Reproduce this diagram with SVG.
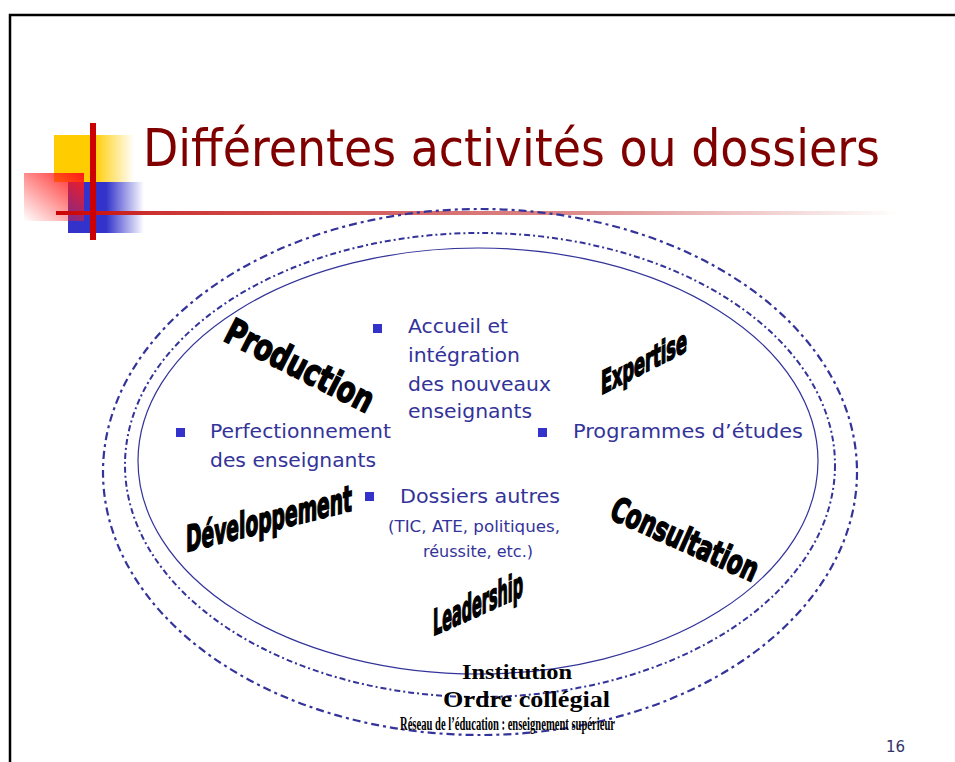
<svg xmlns="http://www.w3.org/2000/svg" width="955" height="762" viewBox="0 0 955 762">
<defs>
<style>
.title{font-family:"DejaVu Sans Condensed","Liberation Sans",sans-serif;font-size:51px;fill:#800000}
.item{font-family:"DejaVu Sans","Liberation Sans",sans-serif;font-size:20px;fill:#333399}
.small{font-family:"DejaVu Sans","Liberation Sans",sans-serif;font-size:16px;fill:#333399}
.bul{fill:#3333cc}
.wa{font-family:"DejaVu Sans Condensed","Liberation Sans Narrow","Liberation Sans",sans-serif;font-weight:bold;fill:#000;stroke:#000;stroke-width:1.6}
.goth{font-family:"Liberation Serif","DejaVu Serif",serif;font-weight:bold;fill:#000}
.ring{fill:none;stroke:#333399}
</style>
<linearGradient id="gY" x1="0" y1="0" x2="1" y2="0">
<stop offset="0" stop-color="#ffcc00"/><stop offset="0.5" stop-color="#ffcc00"/><stop offset="1" stop-color="#ffcc00" stop-opacity="0"/>
</linearGradient>
<linearGradient id="gB" x1="0" y1="0" x2="1" y2="0">
<stop offset="0" stop-color="#3333cc"/><stop offset="0.5" stop-color="#3333cc"/><stop offset="1" stop-color="#3333cc" stop-opacity="0"/>
</linearGradient>
<linearGradient id="gP" x1="1" y1="0" x2="0" y2="1">
<stop offset="0" stop-color="#ff1a1a"/><stop offset="1" stop-color="#ff1a1a" stop-opacity="0"/>
</linearGradient>
<linearGradient id="gL" x1="56" y1="0" x2="900" y2="0" gradientUnits="userSpaceOnUse">
<stop offset="0" stop-color="#cc0000"/><stop offset="0.12" stop-color="#cc3333"/><stop offset="0.6" stop-color="#dd8888"/><stop offset="1" stop-color="#ffffff"/>
</linearGradient>
</defs>
<rect width="955" height="762" fill="#fff"/>
<path d="M10,762 V15 H955" fill="none" stroke="#000" stroke-width="2.5"/>

<g id="decoration">
<rect x="54" y="135" width="80" height="47" fill="url(#gY)"/>
<rect x="68" y="182" width="76" height="51" fill="url(#gB)"/>
<rect x="24" y="173" width="60" height="48" fill="url(#gP)"/>
<rect x="56" y="211" width="844" height="4" fill="url(#gL)"/>
<rect x="90" y="123" width="6" height="117" fill="#cc0000"/>
</g>

<g id="title">
<text class="title" x="143" y="166" textLength="737" lengthAdjust="spacingAndGlyphs">Différentes activités ou dossiers</text>
</g>

<g id="rings">
<ellipse id="outer" class="ring" cx="480" cy="472" rx="377" ry="263" stroke-width="2.2" stroke-dasharray="8 4 3 4"/>
<ellipse id="middle" class="ring" cx="480" cy="465" rx="355" ry="232" stroke-width="2" stroke-dasharray="6 3 2 3"/>
<ellipse id="inner" class="ring" cx="478" cy="461" rx="340" ry="213" stroke-width="1.2"/>
</g>

<g id="accueil">
<rect class="bul" x="373" y="324" width="9" height="9"/>
<text class="item" x="408" y="333" textLength="100" lengthAdjust="spacingAndGlyphs">Accueil et</text>
<text class="item" x="408" y="362" textLength="112" lengthAdjust="spacingAndGlyphs">intégration</text>
<text class="item" x="408" y="391" textLength="143" lengthAdjust="spacingAndGlyphs">des nouveaux</text>
<text class="item" x="408" y="418" textLength="124" lengthAdjust="spacingAndGlyphs">enseignants</text>
</g>

<g id="perfectionnement">
<rect class="bul" x="176" y="428" width="9" height="9"/>
<text class="item" x="210" y="438" textLength="181" lengthAdjust="spacingAndGlyphs">Perfectionnement</text>
<text class="item" x="210" y="467" textLength="166" lengthAdjust="spacingAndGlyphs">des enseignants</text>
</g>

<g id="programmes">
<rect class="bul" x="538" y="428" width="9" height="9"/>
<text class="item" x="573" y="438" textLength="230" lengthAdjust="spacingAndGlyphs">Programmes d’études</text>
</g>

<g id="dossiers">
<rect class="bul" x="365" y="492" width="9" height="9"/>
<text class="item" x="400" y="503" textLength="160" lengthAdjust="spacingAndGlyphs">Dossiers autres</text>
<text class="small" x="388" y="532" textLength="172" lengthAdjust="spacingAndGlyphs">(TIC, ATE, politiques,</text>
<text class="small" x="423" y="557" textLength="110" lengthAdjust="spacingAndGlyphs">réussite, etc.)</text>
</g>

<g id="production">
<text class="wa" font-size="36" transform="translate(222,340) rotate(27)" textLength="162" lengthAdjust="spacingAndGlyphs">Production</text>
</g>
<g id="developpement">
<text class="wa" font-size="36" transform="translate(186,552) skewY(-14)" textLength="166" lengthAdjust="spacingAndGlyphs">Développement</text>
</g>
<g id="expertise">
<text class="wa" font-size="32" transform="translate(601,395) skewY(-27)" textLength="86" lengthAdjust="spacingAndGlyphs">Expertise</text>
</g>
<g id="consultation">
<text class="wa" font-size="34" transform="translate(608,518) rotate(24)" textLength="158" lengthAdjust="spacingAndGlyphs">Consultation</text>
</g>
<g id="leadership">
<text class="wa" font-size="36" transform="translate(433,636) skewY(-24)" textLength="90" lengthAdjust="spacingAndGlyphs">Leadership</text>
</g>

<g id="institution">
<text class="goth" x="462" y="679" font-size="20" textLength="110" lengthAdjust="spacingAndGlyphs">Institution</text>
</g>
<g id="ordre">
<text class="goth" x="443" y="707" font-size="24" textLength="167" lengthAdjust="spacingAndGlyphs">Ordre collégial</text>
</g>
<g id="reseau">
<text class="goth" x="400" y="730" font-size="18" textLength="215" lengthAdjust="spacingAndGlyphs">Réseau de l’éducation : enseignement supérieur</text>
</g>

<text x="886" y="752" font-family="DejaVu Sans,Liberation Sans,sans-serif" font-size="15" fill="#333366">16</text>
</svg>
